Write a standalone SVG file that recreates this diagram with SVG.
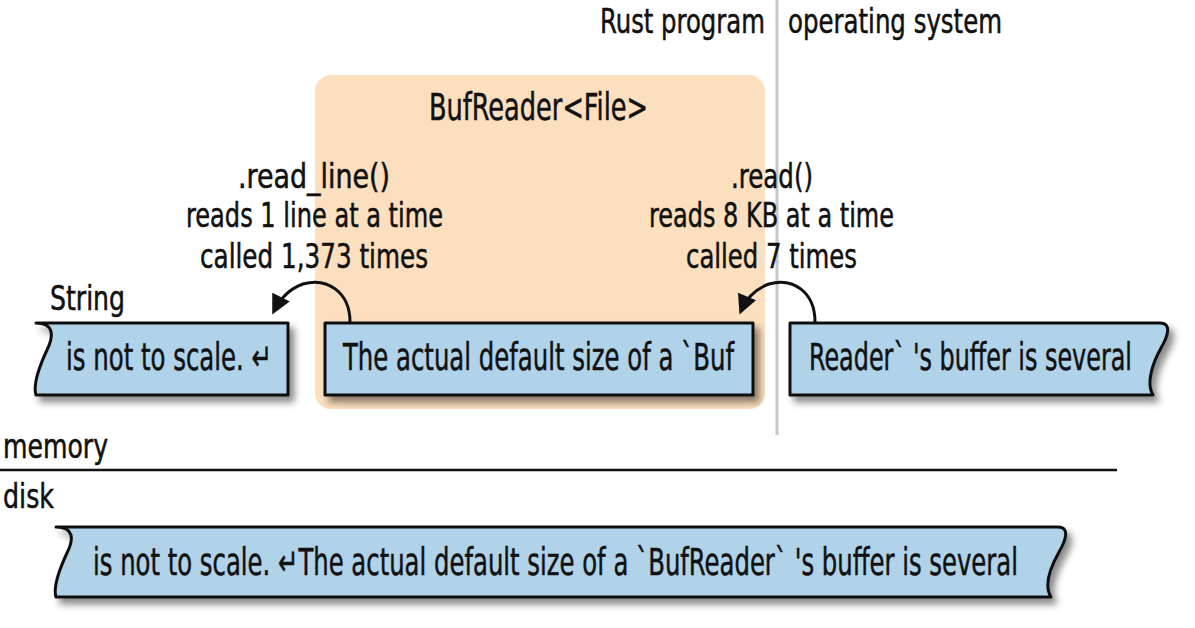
<svg xmlns="http://www.w3.org/2000/svg" width="1195" height="628" viewBox="0 0 1195 628">
<style>
text{font-family:"Liberation Sans Narrow","DejaVu Sans Condensed","Liberation Sans",sans-serif;font-stretch:condensed;fill:#111;stroke:#111;stroke-width:0.5}
.t30{font-size:33px}
.t34{font-size:37px}
.box{fill:#b0d3ea;stroke:#111;stroke-width:3;stroke-linejoin:round}
.conn{fill:none;stroke:#111;stroke-width:3}
</style>
<defs>
<filter id="sh" x="-10%" y="-20%" width="130%" height="160%">
<feDropShadow dx="5" dy="6" stdDeviation="3.5" flood-color="#000" flood-opacity="0.45"/>
</filter>
<marker id="ah" viewBox="0 0 10 10" refX="8" refY="5" markerWidth="7" markerHeight="6.5" markerUnits="strokeWidth" orient="auto">
<path d="M0,0 L10,5 L0,10 Z" fill="#111"/>
</marker>
</defs>
<rect width="1195" height="628" fill="#fff"/>
<g id="divider">
<line x1="777" y1="0" x2="777" y2="435" stroke="#c8c8c8" stroke-width="3"/>
<text class="t30" x="765" y="33" text-anchor="end" textLength="165" lengthAdjust="spacingAndGlyphs">Rust program</text>
<text class="t30" x="788" y="33" textLength="214" lengthAdjust="spacingAndGlyphs">operating system</text>
</g>
<g id="bufreader">
<rect x="315" y="75" width="450" height="334" rx="16" fill="#fcdfbe"/>
<text class="t34" x="429" y="120" textLength="219" lengthAdjust="spacingAndGlyphs">BufReader&lt;File&gt;</text>
</g>
<g id="read_line_label">
<text class="t30" x="238" y="188" textLength="152" lengthAdjust="spacingAndGlyphs">.read_line()</text>
<text class="t30" x="186" y="227" textLength="257" lengthAdjust="spacingAndGlyphs">reads 1 line at a time</text>
<text class="t30" x="200" y="268" textLength="228" lengthAdjust="spacingAndGlyphs">called 1,373 times</text>
</g>
<g id="read_label">
<text class="t30" x="731" y="188" textLength="82" lengthAdjust="spacingAndGlyphs">.read()</text>
<text class="t30" x="649" y="227" textLength="245" lengthAdjust="spacingAndGlyphs">reads 8 KB at a time</text>
<text class="t30" x="686" y="268" textLength="171" lengthAdjust="spacingAndGlyphs">called 7 times</text>
</g>
<g id="string">
<text class="t30" x="50" y="310" textLength="75" lengthAdjust="spacingAndGlyphs">String</text>
<path class="box" filter="url(#sh)" d="M36,323 L288,323 L288,395 L36,395 C33,385 40,365 47,350 C54,336 54,323 36,323 Z"/>
<text class="t34" x="66" y="370" textLength="206" lengthAdjust="spacingAndGlyphs">is not to scale. ↵</text>
</g>
<g id="buffer">
<rect class="box" filter="url(#sh)" x="325" y="323" width="428" height="72"/>
<text class="t34" x="343" y="370" textLength="391" lengthAdjust="spacingAndGlyphs">The actual default size of a `Buf</text>
</g>
<g id="os_buffer">
<path class="box" filter="url(#sh)" d="M790,323 L1160,323 C1172,323 1168,336 1161,348 C1152,364 1146,384 1153,395 L790,395 Z"/>
<text class="t34" x="809" y="370" textLength="323" lengthAdjust="spacingAndGlyphs">Reader` 's buffer is several</text>
</g>
<g id="memory_disk">
<text class="t30" x="3" y="458" textLength="105" lengthAdjust="spacingAndGlyphs">memory</text>
<line x1="0" y1="470" x2="1117" y2="470" stroke="#111" stroke-width="2.5"/>
<text class="t30" x="3" y="508" textLength="51" lengthAdjust="spacingAndGlyphs">disk</text>
</g>
<g id="disk_file">
<path class="box" filter="url(#sh)" d="M56,527 L1058,527 C1070,527 1066,540 1059,552 C1050,568 1044,586 1051,597 L56,597 C53,587 60,568 67,553 C74,539 74,527 56,527 Z"/>
<text class="t34" x="93" y="575" textLength="925" lengthAdjust="spacingAndGlyphs">is not to scale. ↵The actual default size of a `BufReader` 's buffer is several</text>
</g>
<g id="connectors">
<path class="conn" marker-end="url(#ah)" d="M350,322 C350,292 327,277 303,284 C289,289 280,299 274,311"/>
<path class="conn" marker-end="url(#ah)" d="M815,322 C815,292 793,277 769,284 C755,289 746,299 741,311"/>
</g>
</svg>
